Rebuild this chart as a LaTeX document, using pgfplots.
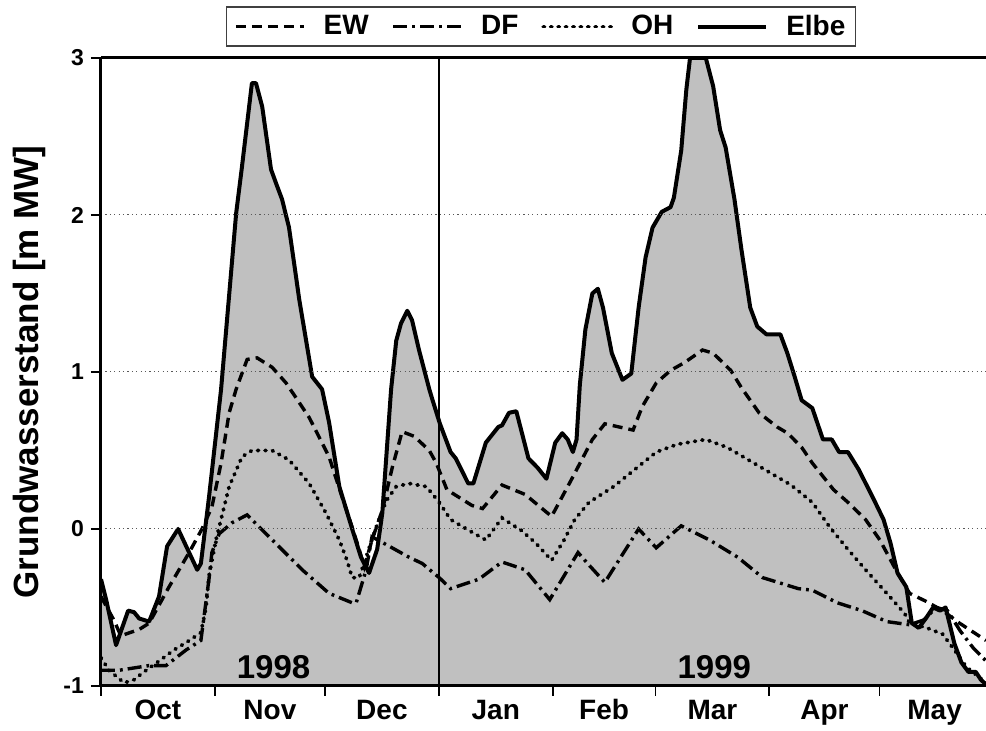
\documentclass[border=0pt]{standalone}
\usepackage{fontspec}
\setmainfont{Liberation Sans}
\usepackage{pgfplots}
\usepackage{pgfplotstable}
\pgfplotsset{compat=1.18}
\definecolor{fillgray}{RGB}{192,192,192}

% days counted from 1 Oct 1998
\pgfplotstableread{
day val
0 -0.32
1.4 -0.45
4.1 -0.74
7.4 -0.52
9.0 -0.53
10.4 -0.57
13.1 -0.59
15.8 -0.43
18.0 -0.11
21.0 0.00
24.0 -0.15
26.2 -0.26
27.2 -0.22
29.4 0.20
32.7 0.89
36.8 2.01
38.4 2.31
41.1 2.84
42.2 2.84
43.9 2.69
46.3 2.29
47.7 2.20
49.3 2.10
51.2 1.92
54.0 1.46
57.5 0.97
60.2 0.89
62.1 0.68
64.9 0.27
68.4 0.00
70.8 -0.18
73.0 -0.28
75.2 -0.13
76.6 0.10
79.0 0.89
80.4 1.20
81.7 1.31
83.4 1.39
84.7 1.33
86.6 1.14
89.4 0.89
90.3 0.82
92.3 0.67
95.2 0.49
96.6 0.45
100.0 0.29
101.4 0.29
104.8 0.55
108.2 0.65
109.2 0.66
111.1 0.74
113.1 0.75
116.4 0.45
118.9 0.39
121.3 0.32
123.7 0.55
125.6 0.61
127.1 0.57
128.5 0.49
129.5 0.57
130.4 0.92
131.9 1.27
133.8 1.50
135.3 1.53
136.7 1.41
139.1 1.12
142.0 0.95
144.4 0.99
146.4 1.41
148.3 1.73
150.2 1.92
152.7 2.02
155.1 2.05
156.0 2.11
158.0 2.41
159.4 2.80
160.4 3.00
164.7 3.00
166.7 2.82
168.6 2.54
170.1 2.43
172.5 2.10
174.4 1.78
176.8 1.41
178.7 1.29
181.2 1.24
183.6 1.24
185.0 1.24
186.9 1.12
188.9 0.97
190.8 0.82
193.7 0.77
196.6 0.57
199.0 0.57
201.0 0.49
203.4 0.49
206.3 0.38
210.2 0.20
213.1 0.06
215.0 -0.09
216.9 -0.28
219.3 -0.37
220.8 -0.60
222.7 -0.63
224.6 -0.57
226.6 -0.50
228.5 -0.52
230.0 -0.50
232.4 -0.73
234.3 -0.85
236.2 -0.91
238.2 -0.91
239.6 -0.96
241.0 -0.99
}\elbe

\pgfplotstableread{
day val
0 -0.43
3.5 -0.58
5.4 -0.68
10.4 -0.64
13.1 -0.60
18.5 -0.37
24.0 -0.15
27.5 0.00
30.2 0.14
32.7 0.42
34.9 0.74
36.8 0.89
39.8 1.08
42.5 1.09
46.6 1.03
50.4 0.93
56.7 0.71
62.1 0.46
65.7 0.20
68.4 0.01
70.3 -0.13
71.7 -0.24
73.8 -0.07
76.6 0.12
79.3 0.39
82.0 0.62
85.3 0.59
89.4 0.50
91.3 0.42
94.2 0.25
101.0 0.15
103.9 0.13
109.2 0.28
115.5 0.22
122.7 0.08
128.0 0.31
133.8 0.57
137.2 0.67
144.9 0.63
147.4 0.78
151.2 0.93
155.1 1.01
158.9 1.06
163.8 1.14
166.7 1.12
171.5 1.01
174.4 0.90
179.2 0.74
184.1 0.65
187.0 0.61
190.8 0.52
193.7 0.42
199.5 0.25
203.4 0.17
208.2 0.06
212.1 -0.07
216.9 -0.28
220.2 -0.41
224.6 -0.46
229.2 -0.52
233.8 -0.60
241.0 -0.71
}\ew

\pgfplotstableread{
day val
0 -0.90
4.9 -0.90
13.1 -0.87
17.7 -0.87
23.2 -0.77
27.2 -0.71
28.1 -0.55
29.4 -0.32
30.2 -0.15
32.2 -0.03
35.7 0.04
39.8 0.09
45.8 -0.05
54.8 -0.26
62.1 -0.41
68.4 -0.47
69.5 -0.47
72.2 -0.26
73.8 -0.05
78.5 -0.11
83.9 -0.18
87.5 -0.22
92.1 -0.31
95.2 -0.38
102.9 -0.32
109.2 -0.21
115.5 -0.26
122.2 -0.45
129.9 -0.15
132.9 -0.23
137.2 -0.34
146.4 0.00
151.2 -0.12
158.0 0.02
165.7 -0.07
173.4 -0.18
180.2 -0.31
189.9 -0.38
193.7 -0.39
200.5 -0.47
207.2 -0.52
214.0 -0.59
220.2 -0.61
224.0 -0.58
227.5 -0.50
230.5 -0.52
234.0 -0.65
237.6 -0.76
241.0 -0.84
}\df

\pgfplotstableread{
day val
0 -0.82
2.2 -0.90
6.3 -0.98
9.0 -0.96
11.7 -0.91
15.3 -0.85
19.9 -0.77
23.4 -0.72
25.3 -0.69
27.2 -0.66
28.6 -0.50
29.4 -0.30
31.3 -0.07
34.9 0.27
38.4 0.46
41.1 0.50
46.6 0.50
51.2 0.44
56.7 0.29
61.3 0.10
64.9 -0.07
67.0 -0.20
68.4 -0.31
70.3 -0.31
72.2 -0.18
74.9 0.01
77.7 0.18
80.4 0.27
83.9 0.29
88.6 0.27
92.1 0.17
95.2 0.06
101.0 -0.02
104.8 -0.07
109.2 0.07
114.5 -0.01
118.4 -0.09
122.7 -0.20
126.1 -0.07
129.0 0.06
132.9 0.17
139.6 0.27
145.4 0.38
151.2 0.49
157.0 0.54
164.7 0.57
170.5 0.52
176.3 0.44
182.1 0.36
187.9 0.28
193.7 0.17
198.5 0.01
203.4 -0.13
208.2 -0.26
214.0 -0.41
218.9 -0.54
220.2 -0.60
224.9 -0.63
229.2 -0.67
231.1 -0.73
233.0 -0.79
235.7 -0.88
238.4 -0.93
241.0 -0.98
}\oh

\begin{document}
\begin{tikzpicture}
\begin{axis}[
    scale only axis, width=442.5pt, height=314pt,
    xmin=0, xmax=241, ymin=-1, ymax=3,
    axis x line=box, axis y line=left,
    every non boxed y axis/.style={},
    y axis line style={-},
    axis line style={line width=1.5pt},
    axis on top,
    tick align=outside, major tick length=5pt,
    tick style={line width=0.9pt, black},
    xtick={0,31,61,92,123,151,182,212}, xticklabels={}, xtick pos=left,
    extra x ticks={15.5,46,76.5,107.5,137,166.5,197,227},
    extra x tick labels={Oct,Nov,Dec,Jan,Feb,Mar,Apr,May},
    extra x tick style={grid=none, major tick length=0pt,
        xticklabel style={font=\bfseries\fontsize{14}{16}\selectfont,
            text height=10pt, text depth=3pt, yshift=-3pt}},
    ytick={-1,0,1,2,3}, yticklabels={-1,0,1,2,3}, ytick pos=left,
    yticklabel style={font=\bfseries\fontsize{11.5}{13}\selectfont},
    ymajorgrids,
    grid style={black!65, line width=0.5pt, dash pattern=on 0.6pt off 1.6pt},
    ylabel={Grundwasserstand [m MW]},
    every axis y label/.style={at={([xshift=-36pt]rel axis cs:0,0.5)}, rotate=90,
        anchor=center, font=\bfseries\fontsize{17.5}{20}\selectfont},
    legend columns=4,
    legend style={at={(rel axis cs:0.497,1)}, anchor=south, yshift=5.5pt,
        draw=black!75, line width=0.75pt, inner xsep=4pt, inner ysep=2pt,
        font=\bfseries\fontsize{14}{16}\selectfont,
        nodes={inner xsep=1pt, inner ysep=2pt},
        /tikz/every odd column/.append style={column sep=8pt},
        /tikz/every even column/.append style={column sep=10.5pt}},
    legend image code/.code={\draw[#1] (0pt,0pt) -- (34pt,0pt);},
]
\addplot[fill=fillgray, draw=none, forget plot] table[x=day, y=val] {\elbe}
    -- (axis cs:241,-1) -- (axis cs:0,-1) -- cycle;
\addplot[black, line width=0.7pt, forget plot] coordinates {(92,-1) (92,3)};
\addplot[black, line width=1.7pt, dash pattern=on 5pt off 3pt] table[x=day, y=val] {\ew};
\addlegendentry{EW}
\addplot[black, line width=1.7pt, dash pattern=on 7pt off 2.5pt on 1.4pt off 2.5pt] table[x=day, y=val] {\df};
\addlegendentry{DF}
\addplot[black, line width=1.9pt, line cap=round, dash pattern=on 0.5pt off 3.2pt] table[x=day, y=val] {\oh};
\addlegendentry{OH}
\addplot[black, line width=2pt, line join=round] table[x=day, y=val] {\elbe};
\addlegendentry{Elbe}
\node[font=\bfseries\fontsize{16.5}{19}\selectfont] at (axis cs:47,-0.88) {1998};
\node[font=\bfseries\fontsize{16.5}{19}\selectfont] at (axis cs:167,-0.88) {1999};
\coordinate (sw) at (rel axis cs:0,0);
\coordinate (ne) at (rel axis cs:1,1);
\end{axis}
\pgfresetboundingbox
\path[use as bounding box] ([shift={(-50.5pt,-22.5pt)}]sw) rectangle ([yshift=29pt]ne);
\end{tikzpicture}
\end{document}
